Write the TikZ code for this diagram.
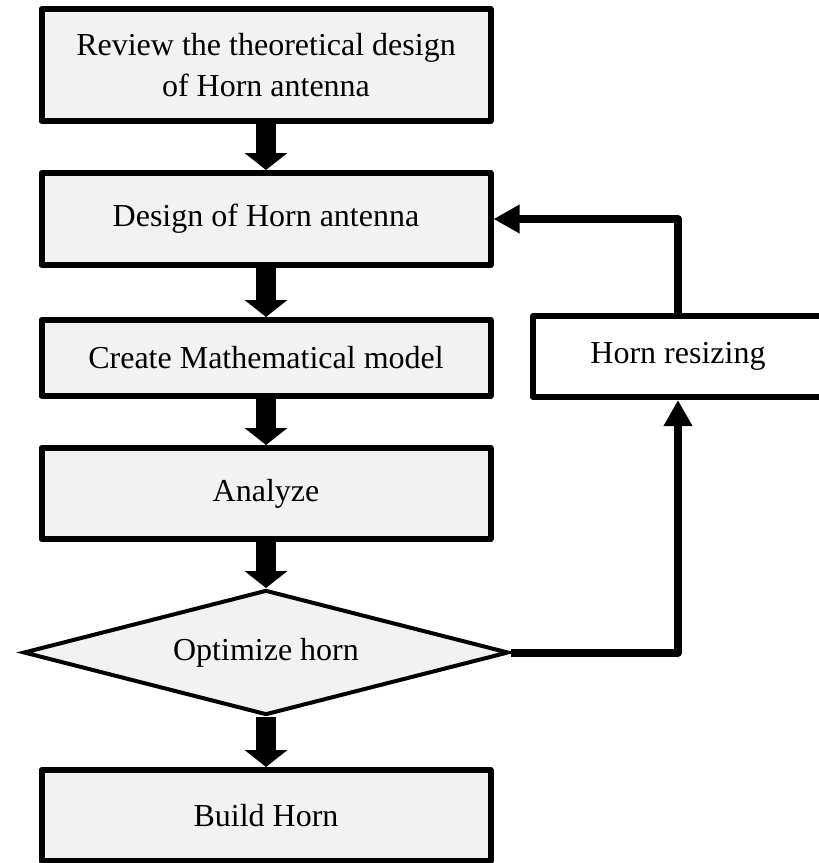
\documentclass[tikz,border=0pt]{standalone}
\usepackage{fontspec}
\setmainfont{Liberation Serif}
\usetikzlibrary{shapes.geometric,arrows.meta}
\definecolor{boxfill}{HTML}{F2F2F2}
\begin{document}
\begin{tikzpicture}[x=1pt,y=-1pt,
  procbox/.style={draw=black,line width=6pt,line join=round,fill=boxfill,
    minimum width=449pt,inner sep=0pt,align=center,
    font=\fontsize{32}{41}\selectfont},
  whitebox/.style={procbox,fill=white},
  decision/.style={diamond,draw=black,line width=4pt,fill=boxfill,
    minimum width=485pt,minimum height=125pt,aspect=3.9,inner sep=0pt,
    font=\fontsize{32}{41}\selectfont},
  blockarrow/.style={line width=20pt,-{Triangle[length=17pt,width=42pt]}},
  fbarrow/.style={line width=8pt,line join=round,-{Triangle[length=26pt,width=27pt]}}]
\useasboundingbox (0,0) rectangle (819,863);
\clip (0,0) rectangle (819,863);
\node[procbox,minimum height=112pt] (b1) at (266,65) {Review the theoretical design\\of Horn antenna};
\node[procbox,minimum height=92pt] (b2) at (266,219) {Design of Horn antenna};
\node[procbox,minimum height=76pt] (b3) at (266,358) {Create Mathematical model};
\node[procbox,minimum height=91pt] (b4) at (266,493.5) {Analyze};
\node[decision] (d) at (266,652.5) {Optimize horn};
\node[procbox,minimum height=91pt] (b5) at (266,815.5) {Build Horn};
\node[whitebox,minimum width=290pt,minimum height=81pt] (hr) at (678,356.5) {Horn resizing};
\draw[blockarrow] (b1.south) -- (b2.north);
\draw[blockarrow] (b2.south) -- (b3.north);
\draw[blockarrow] (b3.south) -- (b4.north);
\draw[blockarrow] (b4.south) -- (d.north);
\draw[blockarrow] (d.south) -- (b5.north);
\draw[fbarrow] (d.east) -| (hr.south);
\draw[fbarrow] (hr.north) |- (b2.east);
\end{tikzpicture}
\end{document}
